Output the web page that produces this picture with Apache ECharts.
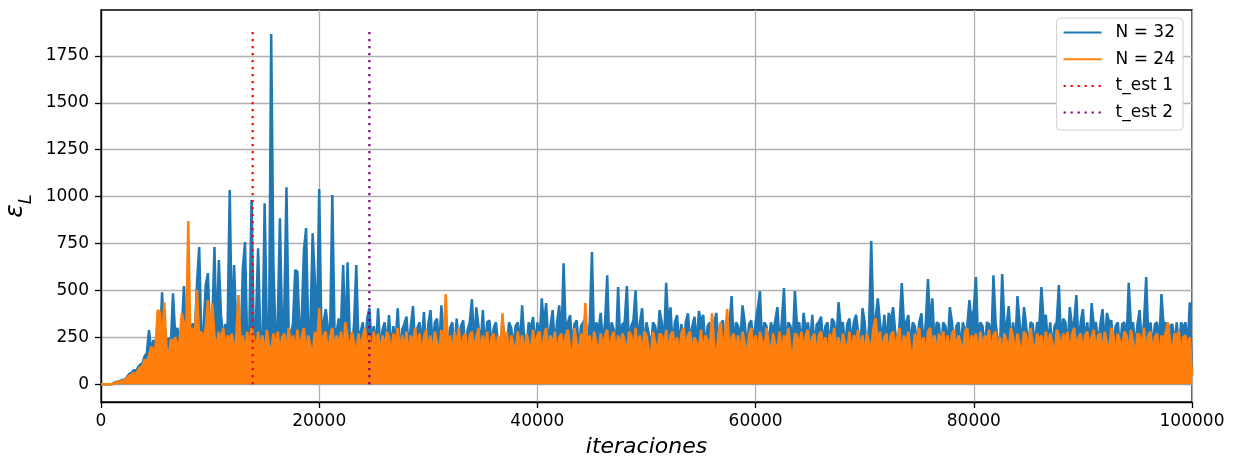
<!DOCTYPE html>
<html>
<head>
<meta charset="utf-8">
<script src="https://cdn.jsdelivr.net/npm/echarts@6/dist/echarts.min.js"></script>
<style>
html,body{margin:0;padding:0;background:#fff;}
#chart{width:1234px;height:459px;}
</style>
</head>
<body>
<div id="chart"></div>
<script>
// iteration step between samples
var STEP = 200;

// upper envelope of N = 32 (one value every STEP iterations, 0..100000)
var seriesN32 = [
0,0,0,0,0,0,8,12,15,18,
22,25,40,55,60,75,70,90,105,110,
150,165,288,170,235,220,240,210,490,200,
230,245,215,485,260,300,240,280,523,250,
300,260,325,270,540,731,230,300,528,592,
250,320,731,210,662,368,250,320,300,1035,
260,635,300,280,200,618,758,220,300,982,
250,330,725,260,200,965,300,240,1867,645,
260,330,885,280,405,1050,300,250,330,608,
600,280,350,715,832,260,330,805,555,300,
1040,280,330,400,300,260,1008,300,280,350,
320,635,200,650,260,170,330,635,210,280,
330,180,350,405,220,310,190,405,170,290,
330,200,368,180,310,220,405,160,290,320,
360,190,310,416,180,300,330,210,385,170,
320,395,200,330,350,190,420,230,330,200,
300,330,170,350,220,310,340,180,290,330,
453,200,410,310,210,395,180,330,340,200,
300,330,210,180,350,230,200,330,300,190,
310,330,210,420,230,180,330,290,358,200,
330,230,458,310,432,210,310,395,190,330,
420,220,645,270,330,368,200,320,340,190,
310,330,350,210,330,705,200,330,280,380,
220,330,581,190,330,290,200,518,210,320,
330,523,190,310,340,500,220,330,405,180,
330,270,190,330,310,210,395,330,200,540,
310,410,190,330,368,210,320,180,330,378,
220,310,360,200,390,330,370,180,310,330,
210,330,380,200,320,340,190,330,310,470,
200,330,310,230,420,330,190,320,340,210,
330,405,496,200,330,310,210,330,280,340,
411,220,330,512,190,330,310,210,496,310,
330,200,380,280,330,210,370,190,320,330,
360,210,310,330,190,350,330,210,437,310,
330,190,320,350,220,330,370,280,180,405,
330,170,310,763,330,350,458,330,230,370,
210,380,330,411,280,190,330,539,320,330,
368,190,330,310,210,330,378,200,330,560,
310,458,210,330,320,190,330,310,200,411,
330,210,310,330,190,330,280,310,448,330,
400,571,210,330,310,190,330,320,200,581,
330,230,190,587,330,310,416,210,330,190,
470,330,210,411,310,190,330,320,200,330,
310,518,330,370,210,330,190,310,330,528,
220,350,330,190,411,310,330,475,210,330,
400,230,330,190,432,310,330,210,320,400,
200,380,330,340,210,310,330,190,320,330,
220,540,310,330,190,320,395,210,330,571,
230,330,190,320,330,210,480,310,330,200,
310,320,210,330,190,330,300,330,200,437,
60
];

// upper envelope of N = 24
var seriesN24 = [
0,0,0,0,0,0,5,10,12,15,
18,20,35,45,50,60,55,75,90,95,
130,120,150,200,180,200,395,385,210,437,
200,128,240,220,250,200,230,378,325,230,
870,180,300,250,502,240,280,230,300,448,
260,432,250,200,280,220,300,180,260,230,
270,160,250,475,180,260,150,280,190,300,
250,160,280,190,260,140,290,200,170,270,
190,280,150,250,270,170,300,200,260,160,
290,180,250,300,160,260,200,140,280,210,
405,170,260,280,150,250,300,180,260,200,
280,160,330,250,170,280,220,150,270,190,
250,300,170,260,140,280,200,270,150,260,
190,280,250,150,270,200,300,160,260,180,
280,150,260,200,300,170,270,140,250,290,
180,260,150,280,220,160,290,200,480,170,
260,140,280,200,300,160,250,270,150,260,
280,170,250,300,150,260,190,280,140,250,
270,160,260,170,378,190,280,140,260,210,
170,280,200,260,140,270,220,160,290,190,
260,280,150,250,300,170,260,200,280,150,
250,270,170,260,290,190,140,300,220,160,
270,200,432,180,260,140,280,220,160,270,
190,260,290,150,250,280,160,260,200,270,
230,150,280,260,170,300,190,260,140,280,
260,180,150,280,220,160,270,260,190,290,
160,260,280,190,250,140,270,300,180,260,
280,160,250,220,180,290,150,260,230,170,
378,200,150,270,330,180,260,400,160,250,
270,180,260,150,280,220,140,260,300,190,
260,160,280,230,170,300,220,150,270,210,
180,280,150,260,220,300,190,140,270,260,
200,280,160,260,290,170,250,270,140,260,
280,190,250,150,270,210,300,170,250,150,
270,220,160,280,140,260,230,290,180,260,
150,270,220,180,300,352,200,280,160,250,
270,150,260,280,190,250,300,140,260,210,
280,180,150,270,230,300,170,250,140,280,
300,190,260,150,270,220,280,170,260,140,
270,290,180,260,220,150,280,300,170,260,
230,270,150,280,190,260,220,290,160,260,
280,170,250,140,270,230,180,300,250,160,
270,210,150,280,260,170,300,220,160,270,
230,260,150,280,190,270,220,140,290,260,
180,270,230,280,150,260,300,190,250,270,
160,260,280,200,250,290,170,260,270,150,
280,220,170,300,260,150,270,230,180,280,
260,160,290,220,150,270,260,190,300,170,
260,280,160,250,270,140,260,230,280,330,
220,170,270,260,280,150,250,260,190,250,
40
];

// estimated times (vertical dotted lines)
var tEst1 = 13900;
var tEst2 = 24600;
var vlineTop = 1900;

var xTicks = [0, 20000, 40000, 60000, 80000, 100000];
var yTicks = [0, 250, 500, 750, 1000, 1250, 1500, 1750];

function toPairs(arr) {
  return arr.map(function (v, i) { return [i * STEP, v]; });
}
function plain(v) { return String(v); }

var FONT = 'DejaVu Sans';
var chart = echarts.init(document.getElementById('chart'), null, {renderer: 'canvas'});

chart.setOption({
  animation: false,
  backgroundColor: '#fff',
  grid: {
    left: 101, right: 42, top: 10, bottom: 57,
    containLabel: false, outerBoundsMode: 'none',
    show: true, borderColor: '#000', borderWidth: 1.3, backgroundColor: 'transparent'
  },
  legend: {
    orient: 'vertical',
    right: 51, top: 18,
    padding: [6, 8, 9, 6],
    itemWidth: 38, itemHeight: 17, itemGap: 9.7,
    backgroundColor: '#fff',
    borderColor: '#d0d0d0', borderWidth: 1, borderRadius: 4,
    itemStyle: {opacity: 0},
    textStyle: {fontFamily: FONT, fontSize: 17, lineHeight: 17, color: '#000', padding: [0, 0, 0, 9]},
    data: ['N = 32', 'N = 24', 't_est 1', 't_est 2']
  },
  xAxis: {
    type: 'value', min: 0, max: 100000, interval: 20000,
    name: 'iteraciones', nameLocation: 'middle', nameGap: 34,
    nameTextStyle: {fontFamily: FONT, fontSize: 22, fontStyle: 'italic', color: '#000'},
    axisLine: {show: true, onZero: false, lineStyle: {color: '#000', width: 1.3}},
    axisTick: {show: true, length: 6, lineStyle: {color: '#000', width: 1.3}},
    axisLabel: {fontFamily: FONT, fontSize: 17, color: '#000', margin: 11, formatter: plain},
    splitLine: {show: true, lineStyle: {color: '#b0b0b0', width: 1.3}}
  },
  yAxis: {
    type: 'value', min: -95, max: 1995,
    name: '{e|ε}{s|L}', nameLocation: 'middle', nameGap: 64, nameRotate: 90,
    nameTextStyle: {
      fontFamily: FONT, color: '#000',
      rich: {
        e: {fontFamily: FONT, fontSize: 25, fontStyle: 'italic', color: '#000', verticalAlign: 'bottom'},
        s: {fontFamily: FONT, fontSize: 18, fontStyle: 'italic', color: '#000', verticalAlign: 'bottom', padding: [0, 0, -7, 0]}
      }
    },
    axisLine: {show: true, onZero: false, lineStyle: {color: '#000', width: 1.3}},
    axisTick: {show: true, length: 6, customValues: yTicks, lineStyle: {color: '#000', width: 1.3}},
    axisLabel: {fontFamily: FONT, fontSize: 17, color: '#000', margin: 12, customValues: yTicks, formatter: plain},
    splitLine: {show: true, lineStyle: {color: '#b0b0b0', width: 1.3}}
  },
  series: [
    {
      name: 'N = 32', type: 'line', data: toPairs(seriesN32),
      symbol: 'none', z: 2,
      lineStyle: {color: '#1f77b4', width: 2.5},
      itemStyle: {color: '#1f77b4'},
      areaStyle: {color: '#1f77b4', opacity: 1}
    },
    {
      name: 'N = 24', type: 'line', data: toPairs(seriesN24),
      symbol: 'none', z: 3,
      lineStyle: {color: '#ff7f0e', width: 2.5},
      itemStyle: {color: '#ff7f0e'},
      areaStyle: {color: '#ff7f0e', opacity: 1}
    },
    {
      name: 't_est 1', type: 'line', data: [[tEst1, 0], [tEst1, vlineTop]],
      symbol: 'none', z: 4,
      lineStyle: {color: '#ff0000', width: 2.2, type: [2.2, 4.8]},
      itemStyle: {color: '#ff0000'}
    },
    {
      name: 't_est 2', type: 'line', data: [[tEst2, 0], [tEst2, vlineTop]],
      symbol: 'none', z: 4,
      lineStyle: {color: '#800080', width: 2.2, type: [2.2, 4.8]},
      itemStyle: {color: '#800080'}
    }
  ]
});
</script>
</body>
</html>
